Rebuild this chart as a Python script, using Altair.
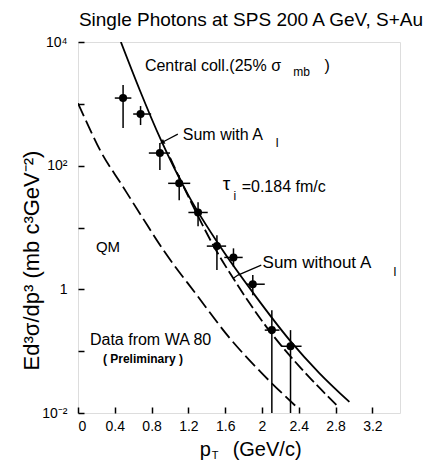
import altair as alt
import pandas as pd

# ---- data ----
pt_x   = [0.49, 0.68, 0.89, 1.10, 1.305, 1.51, 1.69, 1.90, 2.107, 2.31]
pt_y   = [1240, 684, 160, 51.8, 17.5, 5.0, 3.28, 1.21, 0.219, 0.12]
pt_ylo = [405, 454, 85, 27.7, 10.5, 2.05, 2.31, 0.805, 0.01, 0.01]
pt_yhi = [2010, 921, 232, 70, 25.5, 7.5, 4.6, 1.70, 0.46, 0.219]
pt_xlo = [0.40, 0.60, 0.77, 0.98, 1.20, 1.40, 1.59, 1.83, 2.03, 2.21]
pt_xhi = [0.58, 0.795, 1.00, 1.22, 1.41, 1.61, 1.79, 2.03, 2.19, 2.43]

with_x = [0.466, 0.672, 0.90, 1.2, 1.56, 1.92, 2.30, 2.62, 2.95]
with_y = [10000, 1660, 263, 33.1, 4.57, 0.813, 0.151, 0.0447, 0.0151]

without_x = [1.0, 1.2, 1.49, 1.70, 2.06, 2.42, 2.81]
without_y = [135, 31.6, 4.57, 1.41, 0.234, 0.0537, 0.0135]

qm_x = [0.0, 0.12, 0.24, 0.48, 0.70, 0.93, 1.29, 1.65, 2.0, 2.36]
qm_y = [1020, 417, 178, 47.9, 14.5, 4.27, 0.813, 0.162, 0.0437, 0.0132]

x_ticks = [0, 0.4, 0.8, 1.2, 1.6, 2, 2.4, 2.8, 3.2]
y_ticks = [10000, 1000, 100, 10, 1, 0.1, 0.01]

# annotation texts (text, x, y, font size)
ann_text = ["Central coll.(25% σ", "mb", ")", "Sum with A", "I", "τ", "i",
            "=0.184 fm/c", "Sum without A", "I", "QM", "Data from WA 80",
            "p", "T", "(GeV/c)"]
ann_x = [0.727, 2.34, 2.68, 1.139, 2.147, 1.573, 1.69, 1.779, 2.006, 3.427,
         0.195, 0.13, 1.323, 1.453, 1.681]
ann_y = [4074, 3273, 4074, 313, 232, 50.1, 32.2, 45.1, 2.65, 1.90, 4.82,
         0.151, 0.0025, 0.0020, 0.0025]
ann_fs = [16, 12, 16, 16, 12, 19, 12, 16, 17, 12, 15, 16, 20, 11, 20]

prelim_text = ["( Preliminary )"]
prelim_x = [0.271]
prelim_y = [0.0741]

arrow_x = [0.922, 1.085]
arrow_y = [241, 324]
leader_x = [1.685, 1.739, 1.992]
leader_y = [1.50, 1.70, 2.46]

# ---- tables ----
pts = pd.DataFrame({"x": pt_x, "y": pt_y, "ylo": pt_ylo, "yhi": pt_yhi,
                    "xlo": pt_xlo, "xhi": pt_xhi})
c_with = pd.DataFrame({"x": with_x, "y": with_y})
c_without = pd.DataFrame({"x": without_x, "y": without_y})
c_qm = pd.DataFrame({"x": qm_x, "y": qm_y})
ann = pd.DataFrame({"t": ann_text, "x": ann_x, "y": ann_y, "fs": ann_fs})
prelim = pd.DataFrame({"t": prelim_text, "x": prelim_x, "y": prelim_y})
arrow = pd.DataFrame({"x": arrow_x, "y": arrow_y})
leader = pd.DataFrame({"x": leader_x, "y": leader_y})

FONT = "Liberation Sans"

xscale = alt.Scale(domain=[0, 3.5], nice=False, zero=False)
yscale = alt.Scale(type="log", domain=[0.01, 10000], nice=False)

ylabel_expr = ("datum.value > 9000 ? '10⁴' : (datum.value > 90 && datum.value < 110) ? '10²' : "
               "(datum.value > 0.9 && datum.value < 1.1) ? '1' : datum.value < 0.011 ? '10⁻²' : ''")

X = alt.X("x:Q", scale=xscale,
          axis=alt.Axis(values=x_ticks, format="~g", title=None, offset=-6, tickSize=6,
                        domain=False, grid=False, labelFontSize=14, labelPadding=6,
                        labelColor="black", tickColor="black", tickWidth=1.5,
                        labelFont=FONT))
Y = alt.Y("y:Q", scale=yscale,
          axis=alt.Axis(values=y_ticks, labelExpr=ylabel_expr, offset=-6, tickSize=6,
                        domain=False, grid=False, labelFontSize=14, labelPadding=11,
                        labelColor="black", tickColor="black", tickWidth=1.5,
                        labelFont=FONT,
                        title="Ed³σ/dp³ (mb c³GeV⁻²)", titleFontSize=22,
                        titleFontWeight="normal", titleFont=FONT, titleColor="black",
                        titleAngle=270, titleX=-53, titleY=218, titleAlign="center",
                        titleBaseline="middle"))

base_pts = alt.Chart(pts)
hbar = base_pts.mark_rule(color="black", strokeWidth=1.5).encode(
    x=alt.X("xlo:Q", scale=xscale), x2="xhi:Q", y=alt.Y("y:Q", scale=yscale))
vbar = base_pts.mark_rule(color="black", strokeWidth=1.5).encode(
    x=alt.X("x:Q", scale=xscale), y=alt.Y("ylo:Q", scale=yscale), y2="yhi:Q")
dots = base_pts.mark_point(filled=True, color="black", size=65, opacity=1,
                           shape="circle").encode(x=X, y=Y)

l_with = alt.Chart(c_with).mark_line(color="black", strokeWidth=1.8,
                                      interpolate="monotone", clip=True).encode(
    x=alt.X("x:Q", scale=xscale), y=alt.Y("y:Q", scale=yscale))
l_without = alt.Chart(c_without).mark_line(color="black", strokeWidth=1.8,
                                            strokeDash=[12, 4], interpolate="monotone",
                                            clip=True).encode(
    x=alt.X("x:Q", scale=xscale), y=alt.Y("y:Q", scale=yscale))
l_qm = alt.Chart(c_qm).mark_line(color="black", strokeWidth=1.8, strokeDash=[14, 5],
                                  interpolate="monotone", clip=True).encode(
    x=alt.X("x:Q", scale=xscale), y=alt.Y("y:Q", scale=yscale))

arrow_line = alt.Chart(arrow).mark_line(color="black", strokeWidth=1.2).encode(
    x=alt.X("x:Q", scale=xscale), y=alt.Y("y:Q", scale=yscale))
arrow_head = alt.Chart(arrow.iloc[[0]]).mark_point(shape="triangle", angle=242, size=30,
                                                    filled=True, color="black",
                                                    opacity=1).encode(
    x=alt.X("x:Q", scale=xscale), y=alt.Y("y:Q", scale=yscale))
leader_line = alt.Chart(leader).mark_line(color="black", strokeWidth=1.2).encode(
    x=alt.X("x:Q", scale=xscale), y=alt.Y("y:Q", scale=yscale))

texts = alt.Chart(ann).mark_text(align="left", baseline="middle", font=FONT,
                                 color="black").encode(
    x=alt.X("x:Q", scale=xscale), y=alt.Y("y:Q", scale=yscale), text="t:N",
    size=alt.Size("fs:Q", scale=None, legend=None))
ptext = alt.Chart(prelim).mark_text(align="left", baseline="middle", font=FONT,
                                    fontSize=12, fontWeight="bold", color="black").encode(
    x=alt.X("x:Q", scale=xscale), y=alt.Y("y:Q", scale=yscale), text="t:N")

chart = alt.layer(
    l_qm, l_without, l_with, hbar, vbar, dots, arrow_line, arrow_head, leader_line,
    texts, ptext
).properties(
    width=322, height=371,
    padding={"left": 70, "top": 34, "right": 26, "bottom": 50},
    autosize=alt.AutoSizeParams(type="none"),
    title=alt.Title("Single Photons at SPS 200 A GeV, S+Au", fontSize=19,
                    fontWeight="normal", font=FONT, color="black", anchor="middle",
                    dx=12, offset=5),
).configure_view(stroke="black", strokeWidth=1.5).configure(background="white")

chart.save("out.html", embed_options={"renderer": "svg", "actions": False})
